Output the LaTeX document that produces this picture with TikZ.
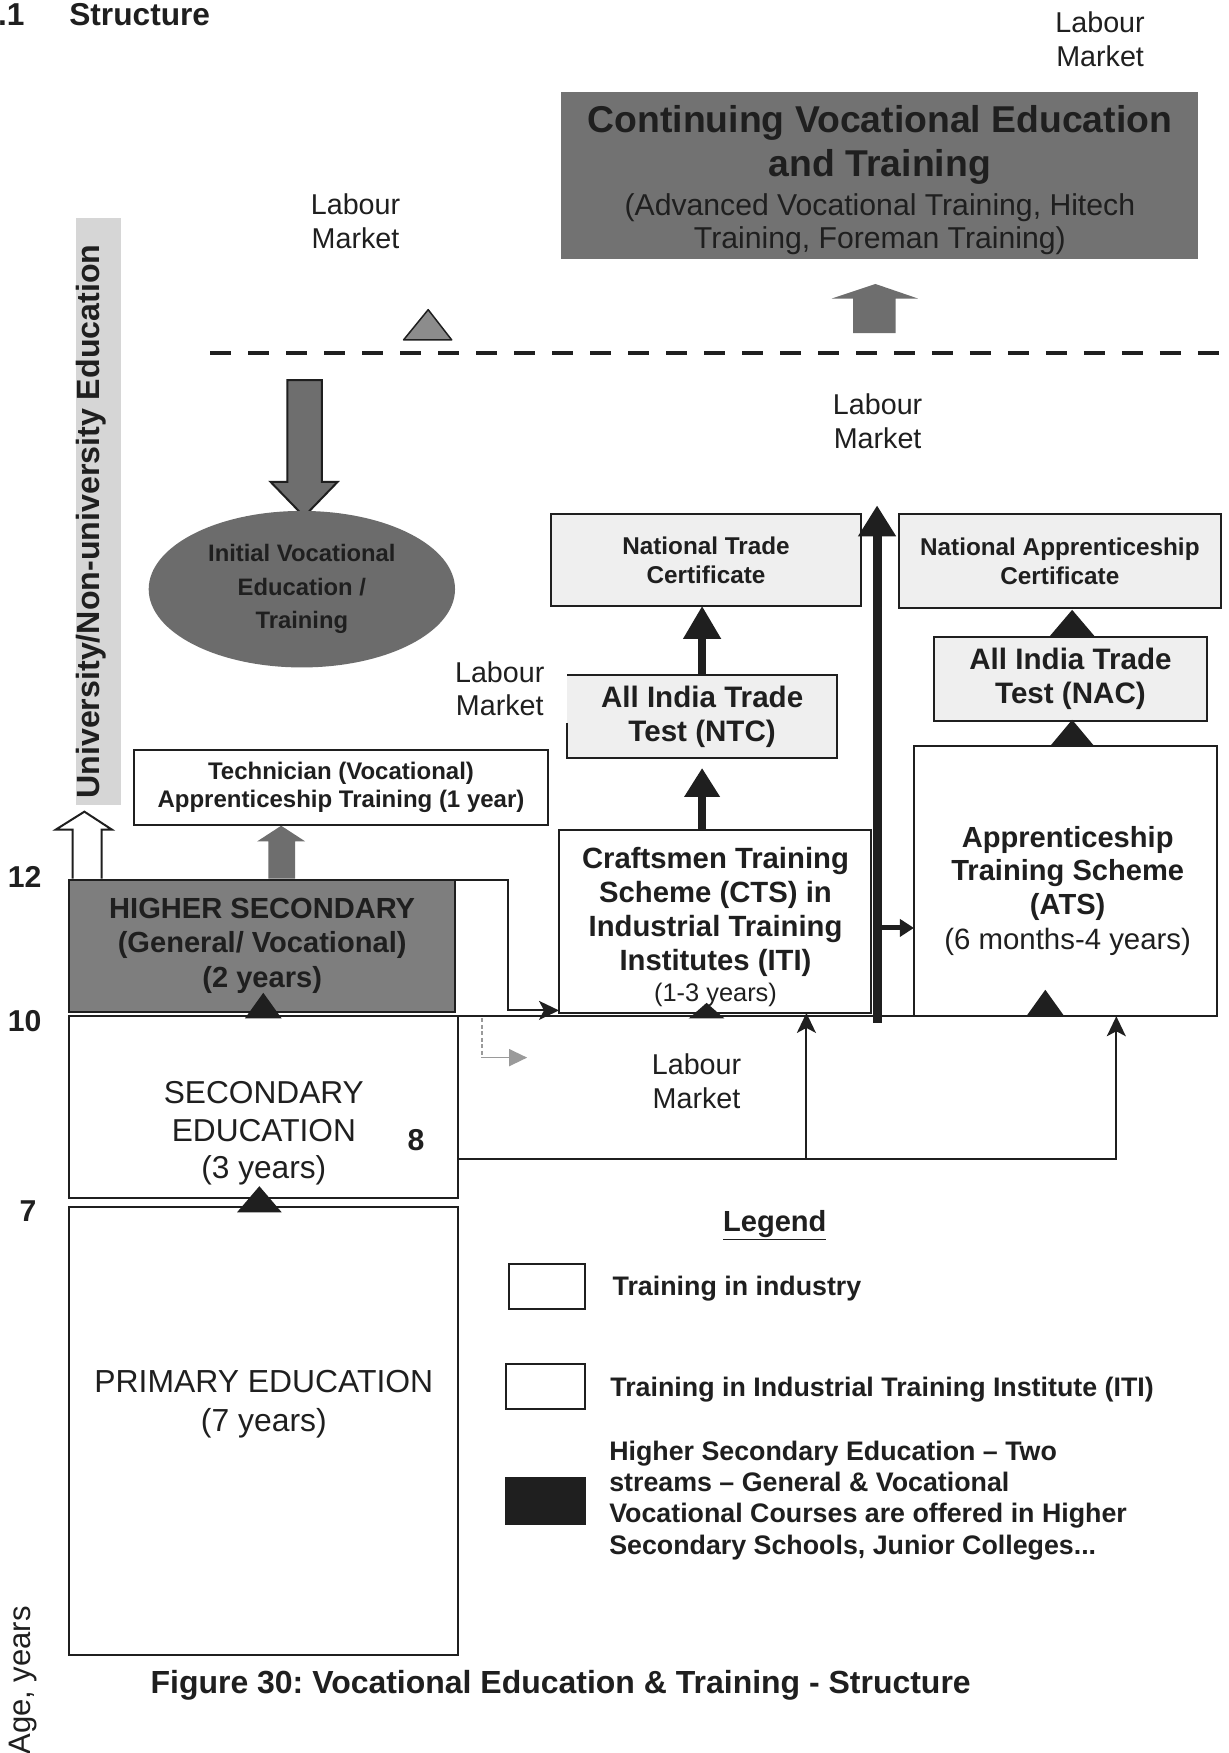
\documentclass[tikz,border=0pt]{standalone}
\usepackage{fontspec}
\setmainfont{Liberation Sans}
\usetikzlibrary{arrows.meta,shapes.geometric}

\definecolor{ink}{HTML}{1F1F1F}
\definecolor{cvetg}{HTML}{727272}
\definecolor{ellg}{HTML}{6C6C6C}
\definecolor{hsg}{HTML}{7E7E7E}
\definecolor{bannerg}{HTML}{D6D6D6}
\definecolor{lightbox}{HTML}{EFEFEF}
\definecolor{arrg}{HTML}{6E6E6E}
\definecolor{trig}{HTML}{8C8C8C}
\definecolor{dashg}{HTML}{9A9A9A}

\newcommand\fsz[2]{\fontsize{#1pt}{#2pt}\selectfont}
\frenchspacing

\begin{document}
\begin{tikzpicture}[x=1.1183bp,y=-1.1183bp,
  panel/.style 2 args={draw=ink, line width=2bp, inner sep=0pt, outer sep=0pt,
    minimum width=#1*1.1183bp, minimum height=#2*1.1183bp, align=center, text=ink},
  txt/.style={inner sep=0pt, outer sep=0pt, align=center, text=ink},
  lm/.style={txt, font=\fsz{28.8}{33.7}},
  age/.style={txt, font=\fsz{30.3}{34}\bfseries},
  thinarr/.style={draw=ink, line width=2bp, -{Stealth[length=20bp,width=19bp,inset=5bp]}},
  heavyarr/.style={draw=ink, line width=7.8bp, -{Triangle[length=33bp,width=36bp]}},
  blackmark/.style={fill=ink},
  lgtext/.style={txt, align=left, font=\fsz{26.9}{31.4}\bfseries},
]
\useasboundingbox (0,0) rectangle (1099,1568);
\fill[white] (0,0) rectangle (1099,1568);

% ---------- heading ----------
\node[txt, anchor=base east, font=\fsz{31.8}{36}\bfseries] (secno) at (22,23) {.1};
\node[txt, anchor=base west, font=\fsz{31.8}{36}\bfseries] (sectitle) at (62,23) {Structure};

% ---------- labour market labels ----------
\node[lm] (lmtop)   at (984,35)  {Labour\\Market};
\node[lm] (lmleft)  at (318,198) {Labour\\Market};
\node[lm] (lmmid)   at (785,377) {Labour\\Market};
\node[lm] (lmntc)   at (447,616) {Labour\\Market};
\node[lm] (lmlow)   at (623,967) {Labour\\Market};

% ---------- continuing vocational education ----------
\node[panel={570}{150}, draw=none, fill=cvetg] (cvet) at (787,157) {};
\node[txt, font=\fsz{37.5}{43.8}\bfseries] (cvett) at (787,161)
  {\fsz{37.5}{43.8}\bfseries Continuing Vocational Education\\
   \fsz{37.5}{43.8}\bfseries and Training\\[-4.5pt]
   \fsz{30.3}{32.6}\mdseries (Advanced Vocational Training, Hitech\\[-11.2pt]
   \fsz{30.3}{32.6}\mdseries Training, Foreman Training)};
\fill[arrg] (763,298) -- (763,267) -- (744,267) -- (783,254) -- (821,267)
  -- (801,267) -- (801,298) -- cycle;

% ---------- dashed threshold ----------
\draw[ink, line width=3.9bp, dash pattern=on 21bp off 17bp] (188,316) -- (1095,316);
\filldraw[fill=trig, draw=ink, line width=1.5bp, line join=round]
  (383,277) -- (404,304) -- (361,304) -- cycle;

% ---------- university banner ----------
\node[panel={40}{525}, draw=none, fill=bannerg] (banner) at (88,457.5) {};
\node[txt, rotate=90, font=\fsz{32.3}{36}\bfseries] (bannert) at (82,466.5)
  {University/Non-university Education};

% ---------- initial vocational education ----------
\filldraw[fill=arrg, draw=ink, line width=2bp] (257,340) -- (288,340) -- (288,431)
  -- (302,431) -- (272,462) -- (242,431) -- (257,431) -- cycle;
\node[ellipse, fill=ellg, inner sep=0pt, outer sep=0pt,
  minimum width=274*1.1183bp, minimum height=140*1.1183bp,
  align=center, text=ink, font=\fsz{23.9}{33.7}\bfseries] (ivet) at (270,527)
  {Initial Vocational\\Education /\\Training};

% ---------- certificates and trade tests ----------
\node[panel={277}{82}, fill=lightbox, font=\fsz{24.4}{29.2}\bfseries] (ntcc) at (631.5,501)
  {National Trade\\Certificate};
\node[panel={241}{74}, fill=lightbox, draw=none, font=\fsz{29.7}{33.7}\bfseries] (ntct) at (628,641)
  {All India Trade\\Test (NTC)};
\draw[ink, line width=2bp] (ntct.west |- 0,646.6) -- (ntct.south west) -- (ntct.south east)
  -- (ntct.north east) -- (ntct.north west);
\node[panel={288}{84}, fill=lightbox, font=\fsz{24.4}{29.2}\bfseries] (nacc) at (948,502)
  {National Apprenticeship\\Certificate};
\node[panel={245}{75}, fill=lightbox, font=\fsz{29.7}{33.7}\bfseries] (nact) at (957.5,607)
  {All India Trade\\Test (NAC)};

% ---------- training schemes ----------
\node[panel={279}{164}, fill=white] (cts) at (639.5,824) {};
\fill[blackmark] (632,897) -- (648,911) -- (616,911) -- cycle;
\node[txt, font=\fsz{29.4}{34.2}\bfseries] (ctst) at (640,829)
  {\fsz{29.4}{34.2}\bfseries Craftsmen Training\\
   \fsz{29.4}{34.2}\bfseries Scheme (CTS) in\\
   \fsz{29.4}{34.2}\bfseries Industrial Training\\
   \fsz{29.4}{34.2}\bfseries Institutes (ITI)\\[-3pt]
   \fsz{25.5}{30}\mdseries (1-3 years)};
\node[panel={271}{242}, fill=white] (ats) at (953,788) {};
\node[txt, font=\fsz{29.2}{33.7}\bfseries] (atst) at (955,797)
  {\fsz{29.2}{33.7}\bfseries Apprenticeship\\
   \fsz{29.2}{33.7}\bfseries Training Scheme\\
   \fsz{29.2}{33.7}\bfseries (ATS)\\[2pt]
   \fsz{29.5}{33.7}\mdseries (6 months-4 years)};
\node[panel={371}{67}, fill=white, font=\fsz{24.1}{28.1}\bfseries] (tech) at (305,704)
  {Technician (Vocational)\\Apprenticeship Training (1 year)};

% ---------- school stages ----------
\node[panel={345}{118}, fill=hsg, font=\fsz{29.2}{34.8}\bfseries] (hs) at (234.5,846)
  {HIGHER SECONDARY\\(General/ Vocational)\\(2 years)};
\node[panel={348}{163}, fill=white] (sec) at (236,990.5) {};
\node[txt, font=\fsz{31.8}{37.6}] (sect) at (236,1014) {SECONDARY\\EDUCATION\\(3 years)};
\node[panel={348}{400}, fill=white] (prim) at (236,1280) {};
\node[txt, font=\fsz{32}{39.3}] (primt) at (236,1256) {PRIMARY EDUCATION\\(7 years)};

% ---------- age scale ----------
\node[age] (a12) at (22,784) {12};
\node[age] (a10) at (22,913) {10};
\node[age] (a7)  at (25,1083) {7};
\node[age] (a8)  at (372,1020) {8};
\node[txt, rotate=90, font=\fsz{31.2}{36}] (agelbl) at (21,1503) {Age, years};

% ---------- progression arrows ----------
\filldraw[fill=white, draw=ink, line width=2bp, line join=miter]
  (65,786) -- (65,742) -- (50,742) -- (75.5,726) -- (100,742) -- (91,742) -- (91,786);
\fill[arrg] (240,786) -- (240,752.6) -- (230,752.6) -- (251.5,738.6) -- (273,752.6)
  -- (264,752.6) -- (264,786) -- cycle;
\fill[blackmark] (235.5,888) -- (252,911) -- (219,911) -- cycle;
\fill[blackmark] (232,1061) -- (252,1084.4) -- (212,1084.4) -- cycle;
\fill[blackmark] (935,885.3) -- (952,909) -- (918,909) -- cycle;
\fill[blackmark] (959,545.5) -- (979,569) -- (939,569) -- cycle;
\fill[blackmark] (959,643.8) -- (979,667.7) -- (939,667.7) -- cycle;

\draw[heavyarr] (ntct.north) -- (ntct.north |- ntcc.south);
\draw[ink, line width=7.5bp, -{Triangle[length=29bp,width=34bp]}, shorten >=10bp]
  (ntct.south |- cts.north) -- (ntct.south);

\coordinate (thickbot) at (784.5,915);
\coordinate (thicktop) at (784.5,452);
\draw[ink, line width=9bp, -{Triangle[length=31bp,width=36bp]}] (thickbot) -- (thicktop);
\coordinate (atsin) at (789,830);
\draw[ink, line width=5bp, -{Triangle[length=14bp,width=17bp]}] (atsin) -- (atsin -| ats.west);

% ---------- lower connectors ----------
\draw[thinarr] (hs.north east) -- ++(47.6,0) |- ([yshift=2.5bp]cts.south west);
\draw[ink, line width=2bp] (sec.north east) -- (sec.north east -| ats.south west);
\coordinate (dz) at (431.3,911);
\coordinate (dzend) at (471.5,946);
\draw[dashg, line width=1.4bp, dash pattern=on 4bp off 2.5bp] (dz) -- (dz |- dzend);
\draw[dashg, line width=1.4bp, -{Triangle[length=18bp,width=17bp]}] (dz |- dzend) -- (dzend);

\coordinate (yloop) at (0,1036.6);
\coordinate (xmid) at (721.3,0);
\coordinate (xright) at (998.5,0);
\draw[thinarr] (sec.east |- yloop) -| (ats.south -| xright);
\draw[thinarr] (xmid |- yloop) -- (xmid |- cts.south);

% ---------- legend ----------
\node[txt, font=\fsz{29.2}{33}\bfseries] (lgtitle) at (693,1096) {\underline{Legend}};
\node[panel={68}{40}, fill=white] (lg1) at (489,1151) {};
\node[lgtext, anchor=west] (lg1t) at (548,1153) {Training in industry};
\node[panel={70}{40}, fill=white] (lg2) at (488,1240) {};
\node[lgtext, anchor=west] (lg2t) at (546,1243) {Training in Industrial Training Institute (ITI)};
\node[panel={70}{41}, fill=ink] (lg3) at (488,1342.5) {};
\node[lgtext, anchor=west] (lg3t) at (545,1342)
  {Higher Secondary Education – Two\\streams – General \& Vocational\\Vocational Courses are offered in Higher\\Secondary Schools, Junior Colleges...};

% ---------- caption ----------
\node[txt, font=\fsz{32.1}{36}\bfseries] (caption) at (501.5,1507)
  {Figure 30: Vocational Education \& Training - Structure};
\end{tikzpicture}
\end{document}
